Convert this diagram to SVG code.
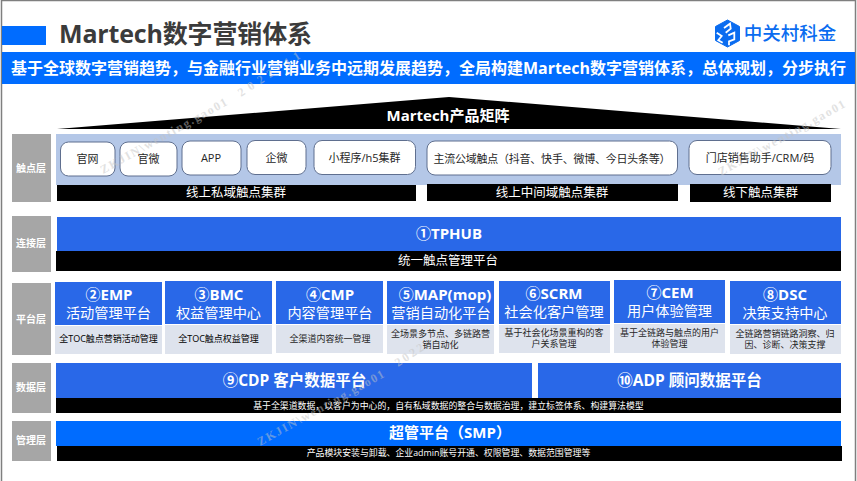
<svg xmlns="http://www.w3.org/2000/svg" width="857" height="481" viewBox="0 0 857 481">
<style>
text{font-family:"Open Sans","Noto Sans CJK SC",sans-serif;text-anchor:middle}
.lay{fill:#a6a6a6}
.layt{fill:#fff;font-size:10px;font-weight:700}
.btn{fill:#fff;stroke:#5f6f8f;stroke-width:1}
.btnt{fill:#262626;font-size:11px}
.blk{fill:#000}
.blkt{fill:#fff;font-size:12.500px}
.small{fill:#fff;font-size:8.900px}
.blue{fill:#2968e8}
.vivid{fill:#006cff}
.light{fill:#dee3ed}
.h1{fill:#fff;font-size:15px;font-weight:700}
.h2{fill:#fff;font-size:14.200px}
.d{fill:#262626;font-size:9px}
.wm{fill:#c4c4c4;fill-opacity:.5;font-family:"Liberation Serif",serif;font-size:12px;font-weight:700;text-anchor:start}
</style>
<rect width="857" height="481" fill="#fff"/>
<path d="M1.500 481V.5H855.500V481" fill="none" stroke="#7f7f7f" stroke-width="1.500"/>
<g id="header">
<rect class="vivid" x="2" y="26" width="44" height="19"/>
<text x="59" y="43" style="text-anchor:start;font-size:25px;font-weight:700;fill:#3b3b3b" textLength="253">Martech数字营销体系</text>
<rect class="vivid" x="2" y="52" width="853" height="32"/>
<text x="428.500" y="74" style="font-size:16px;font-weight:700;fill:#fff">基于全球数字营销趋势，与金融行业营销业务中远期发展趋势，全局构建Martech数字营销体系，总体规划，分步执行</text>
</g>
<g id="logo">
<path d="M727.500 20 739.500 26.500V40.500L727.500 47 715.500 40.500V26.500Z" fill="#0a6cf0" stroke="#0a6cf0" stroke-linejoin="round"/>
<path d="M724 28 730 23.700 730.700 28.700 725.700 32.700M716.700 32.700 721.700 36 718.300 40.300 722.700 42.700M728.300 35.300 734.300 32.700 734.300 39.300 729 41.300V45.300" fill="none" stroke="#fff" stroke-width="1.800"/>
<text x="790" y="40" style="font-size:18.500px;font-weight:500;fill:#0a6cf0">中关村科金</text>
</g>
<g id="pyramid">
<polygon class="blk" points="57,129 449,97 841,129"/>
<text class="h1" x="448" y="121">Martech产品矩阵</text>
</g>
<g id="touch-layer">
<rect class="lay" x="12" y="134" width="39" height="68"/>
<text class="layt" x="31" y="171.500">触点层</text>
<rect x="56" y="134" width="785" height="51" fill="#b4c7e7"/>
</g>
<g id="node-web"><rect class="btn" x="60.500" y="142" width="54.500" height="34" rx="8"/><text class="btnt" x="87.500" y="163">官网</text></g>
<g id="node-wechat"><rect class="btn" x="120" y="142" width="57" height="34" rx="8"/><text class="btnt" x="148.500" y="163">官微</text></g>
<g id="node-app"><rect class="btn" x="182" y="141" width="59" height="34" rx="8"/><text class="btnt" x="211" y="162">APP</text></g>
<g id="node-wecom"><rect class="btn" x="247" y="140.500" width="59" height="34" rx="8"/><text class="btnt" x="276.500" y="162">企微</text></g>
<g id="node-mini"><rect class="btn" x="314" y="140.500" width="101.500" height="34" rx="8"/><text class="btnt" x="364.500" y="162">小程序/h5集群</text></g>
<g id="node-public"><rect class="btn" x="427" y="141" width="250.500" height="34" rx="8"/><text class="btnt" x="552" y="163" textLength="237">主流公域触点（抖音、快手、微博、今日头条等）</text></g>
<g id="node-store"><rect class="btn" x="689" y="140.500" width="142" height="34" rx="8"/><text class="btnt" x="760" y="162">门店销售助手/CRM/码</text></g>
<g id="cluster-private"><rect class="blk" x="57" y="185" width="359" height="16"/><text class="blkt" x="236" y="197">线上私域触点集群</text></g>
<g id="cluster-middle"><rect class="blk" x="427" y="184" width="251" height="17"/><text class="blkt" x="552" y="196.500">线上中间域触点集群</text></g>
<g id="cluster-offline"><rect class="blk" x="690" y="184" width="141" height="18"/><text class="blkt" x="760.500" y="197">线下触点集群</text></g>
<g id="connect-layer">
<rect class="lay" x="12" y="216" width="39" height="56"/>
<text class="layt" x="31" y="247">连接层</text>
<rect class="blue" x="57" y="217" width="784" height="34"/>
<text class="h1" x="449" y="239">①TPHUB</text>
<rect class="blk" x="56" y="251" width="785" height="20"/>
<text class="blkt" x="448" y="265">统一触点管理平台</text>
</g>
<g id="platform-layer"><rect class="lay" x="12" y="283" width="39" height="72"/><text class="layt" x="31" y="323">平台层</text></g>
<g id="node-emp"><rect class="blue" x="55" y="282" width="107" height="43"/><rect class="light" x="55" y="326" width="107" height="28"/><text class="h1" x="109" y="300">②EMP</text><text class="h2" x="108.500" y="318">活动管理平台</text><text class="d" x="108.500" y="342" style="fill:#000">全TOC触点营销活动管理</text></g>
<g id="node-bmc"><rect class="blue" x="165" y="281" width="107" height="43"/><rect class="light" x="165" y="325" width="107" height="29"/><text class="h1" x="219" y="300">③BMC</text><text class="h2" x="218.500" y="318">权益管理中心</text><text class="d" x="218.500" y="342" style="fill:#000">全TOC触点权益管理</text></g>
<g id="node-cmp"><rect class="blue" x="276" y="281" width="107" height="43"/><rect class="light" x="276" y="325" width="107" height="28"/><text class="h1" x="330" y="300">④CMP</text><text class="h2" x="330" y="318">内容管理平台</text><text class="d" x="330" y="342">全渠道内容统一管理</text></g>
<g id="node-map"><rect class="blue" x="387" y="281" width="107" height="43"/><rect class="light" x="387" y="325" width="107" height="29"/><text class="h1" x="445" y="300">⑤MAP(mop)</text><text class="h2" x="441" y="318">营销自动化平台</text><text class="d" x="440.500" y="337"><tspan>全场景多节点、多链路营</tspan><tspan x="440.500" dy="11">销自动化</tspan></text></g>
<g id="node-scrm"><rect class="blue" x="499" y="281" width="111" height="43"/><rect class="light" x="499" y="325" width="111" height="28"/><text class="h1" x="554" y="299">⑥SCRM</text><text class="h2" x="554" y="317">社会化客户管理</text><text class="d" x="554" y="336"><tspan>基于社会化场景重构的客</tspan><tspan x="554" dy="11">户关系管理</tspan></text></g>
<g id="node-cem"><rect class="blue" x="614" y="280" width="111" height="43"/><rect class="light" x="614" y="324" width="111" height="29"/><text class="h1" x="670" y="298">⑦CEM</text><text class="h2" x="669.500" y="316">用户体验管理</text><text class="d" x="669.500" y="336"><tspan>基于全链路与触点的用户</tspan><tspan x="669.500" dy="11">体验管理</tspan></text></g>
<g id="node-dsc"><rect class="blue" x="730" y="281" width="111" height="43"/><rect class="light" x="730" y="325" width="111" height="29"/><text class="h1" x="785" y="300">⑧DSC</text><text class="h2" x="785" y="318">决策支持中心</text><text class="d" x="785" y="337"><tspan>全链路营销链路洞察、归</tspan><tspan x="785" dy="11">因、诊断、决策支撑</tspan></text></g>
<g id="data-layer">
<rect class="lay" x="12" y="363" width="39" height="50"/>
<text class="layt" x="31" y="391">数据层</text>
<rect class="blk" x="56" y="398" width="785" height="15"/>
<text class="small" x="448.500" y="409">基于全渠道数据，以客户为中心的，自有私域数据的整合与数据治理，建立标签体系、构建算法模型</text>
</g>
<g id="node-cdp"><rect class="blue" x="56" y="363" width="476" height="35"/><text class="h1" x="294.500" y="386" style="font-size:15.500px">⑨CDP 客户数据平台</text></g>
<g id="node-adp"><rect class="blue" x="538" y="363" width="303" height="35"/><text class="h1" x="689.500" y="386" style="font-size:15.500px">⑩ADP 顾问数据平台</text></g>
<g id="admin-layer">
<rect class="lay" x="12" y="421" width="39" height="40"/>
<text class="layt" x="31" y="444">管理层</text>
</g>
<g id="node-smp">
<rect class="vivid" x="56" y="421" width="785" height="25"/>
<text class="h1" x="450" y="438">超管平台（SMP）</text>
<rect class="blk" x="57" y="446" width="785" height="15"/>
<text class="small" x="448.500" y="456">产品模块安装与卸载、企业admin账号开通、权限管理、数据范围管理等</text>
</g>
<g id="watermarks">
<text class="wm" transform="translate(103 174) rotate(-29)" textLength="143">ZKJIN\wenting.gao01</text>
<text class="wm" transform="translate(241 97) rotate(-33)" textLength="72">2022-11</text>
<text class="wm" transform="translate(260 446) rotate(-29)" textLength="143">ZKJIN\wenting.gao01</text>
<text class="wm" transform="translate(398 367) rotate(-33)" textLength="32">2022</text>
<text class="wm" transform="translate(721 176) rotate(-29)" textLength="143">ZKJIN\wenting.gao01</text>
</g>
</svg>
